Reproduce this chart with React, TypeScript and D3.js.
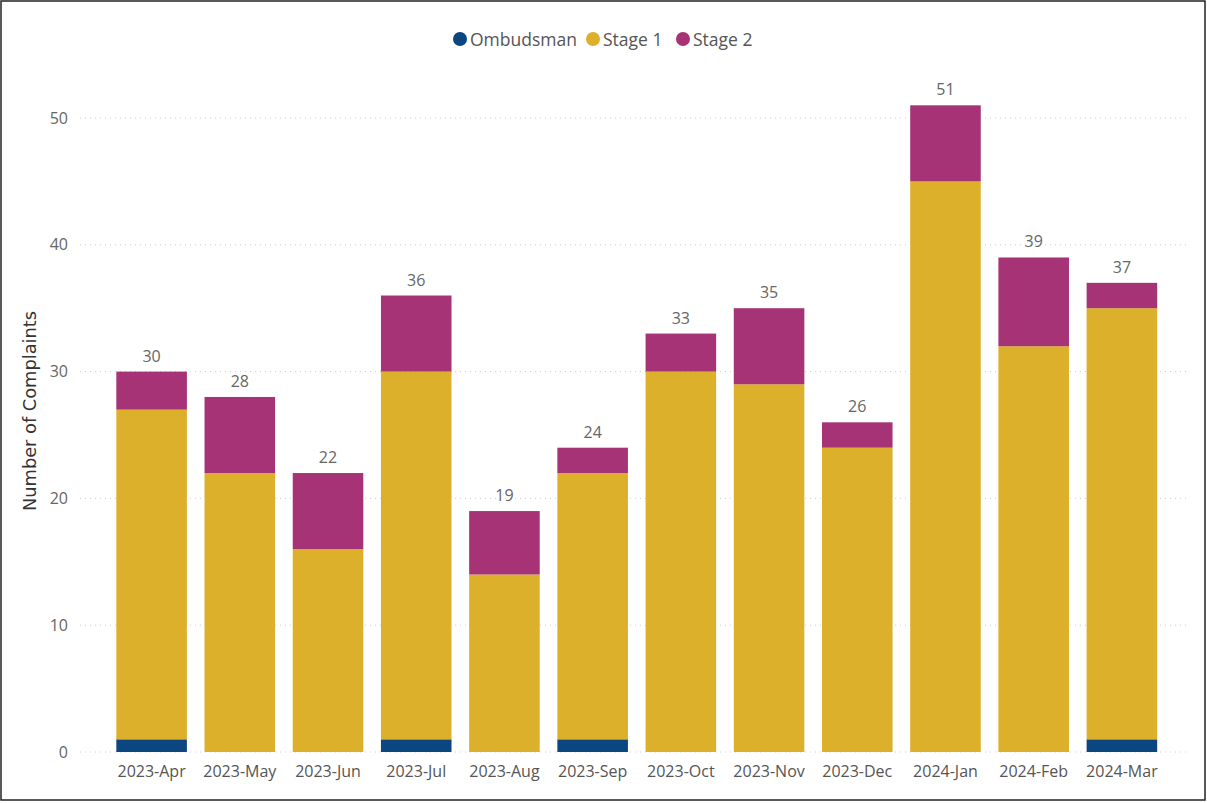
import React from "react";
import * as d3 from "d3";

const months = ["2023-Apr","2023-May","2023-Jun","2023-Jul","2023-Aug","2023-Sep","2023-Oct","2023-Nov","2023-Dec","2024-Jan","2024-Feb","2024-Mar"];
const ombudsman = [1,0,0,1,0,1,0,0,0,0,0,1];
const stage1 = [26,22,16,29,14,21,30,29,24,45,32,34];
const stage2 = [3,6,6,6,5,2,3,6,2,6,7,2];
const seriesNames = ["Ombudsman","Stage 1","Stage 2"];
const seriesColors = ["#0C4680","#DDB02B","#A53376"];
const yTicks = [0,10,20,30,40,50];

const W = 1207, H = 803;
const FONT = "'Segoe UI', 'Open Sans', 'Noto Sans', sans-serif";

export default function App() {
  const x = d3.scaleBand<string>().domain(months).range([107.5, 1166]).paddingInner(0.2).paddingOuter(0.1);
  const y = d3.scaleLinear().domain([0, 50]).range([752, 118]);
  const rows = months.map((m, i) => ({ m, Ombudsman: ombudsman[i], "Stage 1": stage1[i], "Stage 2": stage2[i] }));
  const stack = d3.stack<any>().keys(seriesNames)(rows);
  const totals = months.map((_, i) => ombudsman[i] + stage1[i] + stage2[i]);
  const legendX = [453, 586, 676];

  return (
    <div style={{ position: "absolute", left: 0, top: 0 }}>
      <svg width={W} height={H} style={{ display: "block", background: "#fff" }}>
        <rect x={1} y={1} width={1204} height={799} fill="#fff" stroke="#222" strokeWidth={1.5} />
        {/* legend */}
        {seriesNames.map((s, i) => (
          <g key={s}>
            <circle cx={legendX[i] + 7} cy={39} r={7} fill={seriesColors[i]} />
            <text x={legendX[i] + 17} y={45.5} fontFamily={FONT} fontSize={17.5} fill="#555">{s}</text>
          </g>
        ))}
        {/* grid */}
        {yTicks.map(t => (
          <g key={t}>
            <line x1={80} x2={1190} y1={y(t)} y2={y(t)} stroke="#ccc" strokeDasharray="1,4" strokeWidth={1} />
            <text x={68} y={y(t) + 5.5} textAnchor="end" fontFamily={FONT} fontSize={16} fill="#666">{t}</text>
          </g>
        ))}
        <text transform={`translate(36,411) rotate(-90)`} textAnchor="middle" fontFamily="'DejaVu Sans Condensed', 'DejaVu Sans', sans-serif" fontStretch="condensed" fontSize={18} textLength={200} lengthAdjust="spacingAndGlyphs" fill="#333">Number of Complaints</text>
        {/* bars */}
        {stack.map((layer, si) => (
          <g key={layer.key} fill={seriesColors[si]}>
            {layer.map((d, i) => d[1] - d[0] > 0 ? (
              <rect key={i} x={x(months[i])} y={y(d[1])} width={x.bandwidth()} height={y(d[0]) - y(d[1])} />
            ) : null)}
          </g>
        ))}
        {/* totals */}
        {months.map((m, i) => (
          <text key={m} x={(x(m) as number) + x.bandwidth() / 2} y={y(totals[i]) - 10} textAnchor="middle" fontFamily={FONT} fontSize={16} fill="#666">{totals[i]}</text>
        ))}
        {/* x labels */}
        {months.map(m => (
          <text key={m} x={(x(m) as number) + x.bandwidth() / 2} y={777} textAnchor="middle" fontFamily={FONT} fontSize={16} fill="#555">{m}</text>
        ))}
      </svg>
    </div>
  );
}
